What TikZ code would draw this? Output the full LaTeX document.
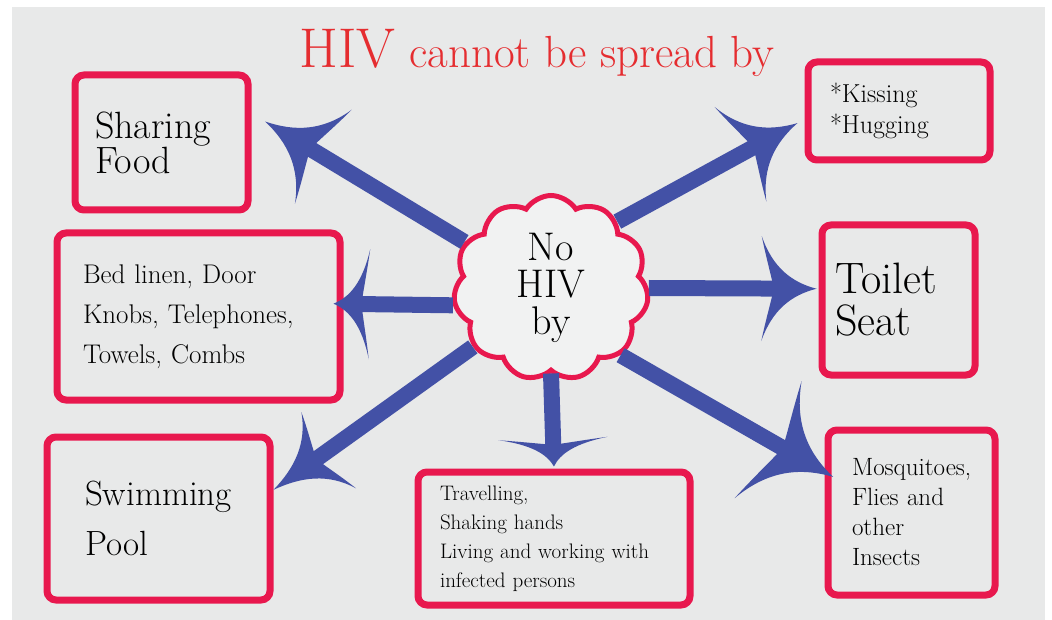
\documentclass[tikz,border=0pt]{standalone}
\usepackage{fontspec}
\usepackage{tikz}
\usetikzlibrary{arrows.meta,shapes.symbols}

\definecolor{paper}{RGB}{232,233,233}
\definecolor{hivred}{RGB}{232,24,78}
\definecolor{titlered}{RGB}{229,45,48}
\definecolor{hivblue}{RGB}{67,81,166}

% curved barb arrow head
\pgfdeclarearrow{
  name = Swoop,
  parameters = {\the\pgfarrowlength,\the\pgfarrowwidth},
  setup code = {
    \pgfarrowssettipend{0pt}
    \pgfarrowssetbackend{-\pgfarrowlength}
    \pgfarrowssetlineend{-.72\pgfarrowlength}
    \pgfarrowshullpoint{0pt}{0pt}
    \pgfarrowsupperhullpoint{-\pgfarrowlength}{.5\pgfarrowwidth}
    \pgfarrowssavethe\pgfarrowlength
    \pgfarrowssavethe\pgfarrowwidth
  },
  drawing code = {
    \pgfpathmoveto{\pgfpointorigin}
    \pgfpathcurveto{\pgfqpoint{-.45\pgfarrowlength}{.06\pgfarrowwidth}}{\pgfqpoint{-.8\pgfarrowlength}{.2\pgfarrowwidth}}{\pgfqpoint{-\pgfarrowlength}{.5\pgfarrowwidth}}
    \pgfpathcurveto{\pgfqpoint{-.9\pgfarrowlength}{.25\pgfarrowwidth}}{\pgfqpoint{-.8\pgfarrowlength}{.08\pgfarrowwidth}}{\pgfqpoint{-.78\pgfarrowlength}{0pt}}
    \pgfpathcurveto{\pgfqpoint{-.8\pgfarrowlength}{-.08\pgfarrowwidth}}{\pgfqpoint{-.9\pgfarrowlength}{-.25\pgfarrowwidth}}{\pgfqpoint{-\pgfarrowlength}{-.5\pgfarrowwidth}}
    \pgfpathcurveto{\pgfqpoint{-.8\pgfarrowlength}{-.2\pgfarrowwidth}}{\pgfqpoint{-.45\pgfarrowlength}{-.06\pgfarrowwidth}}{\pgfpointorigin}
    \pgfpathclose
    \pgfusepathqfill
  },
  defaults = {length = 60pt, width = 110pt}
}

\tikzset{
  card/.style={draw=hivred, line width=7pt, rounded corners=9pt, align=left, inner sep=0pt},
  link/.style={draw=hivblue, line width=16pt},
}

\begin{document}
\begin{tikzpicture}[x=1pt,y=-1pt]
 \useasboundingbox (0,0) rectangle (1052,620);
 \fill[paper] (12,7) rectangle (1045,620);

 \node[text=titlered, anchor=base, font=\fontsize{45}{45}\selectfont] (title) at (537,68)
   {{\fontsize{56}{56}\selectfont HIV} cannot be spread by};

 % the seven boxes
 \node[card, minimum width=173pt, minimum height=135pt, text width=133pt, font=\fontsize{38}{31}\selectfont] (food) at (161.5,142.5) {Sharing\\Food};
 \node[card, minimum width=182pt, minimum height=98pt, text width=138pt, font=\fontsize{26}{31}\selectfont] (kiss) at (899,111) {{*}Kissing\\{*}Hugging};
 \node[card, minimum width=283pt, minimum height=167pt, text width=231pt, font=\fontsize{27}{40}\selectfont] (bed) at (198.5,316.5) {Bed linen, Door\\Knobs, Telephones,\\Towels, Combs};
 \node[card, minimum width=153pt, minimum height=150pt, text width=127pt, font=\fontsize{44}{42}\selectfont] (toilet) at (898.5,300) {Toilet\\Seat};
 \node[card, minimum width=223pt, minimum height=163pt, text width=147pt, font=\fontsize{35}{50}\selectfont] (swim) at (158.5,518.5) {Swimming\\Pool};
 \node[card, minimum width=272pt, minimum height=133pt, text width=228pt, font=\fontsize{21}{29}\selectfont] (travel) at (554,538.5) {Travelling,\\Shaking hands\\Living and working with\\infected persons};
 \node[card, minimum width=167pt, minimum height=165pt, text width=119pt, font=\fontsize{25}{30}\selectfont] (mosq) at (911.5,512.5) {Mosquitoes,\\Flies and\\other\\Insects};

 % centre cloud
 \node[cloud, cloud puffs=11, cloud puff arc=115, draw=hivred, line width=5pt, fill=paper!60!white,
   minimum width=195pt, minimum height=185pt, inner sep=0pt, align=center,
   font=\fontsize{40}{37}\selectfont] (cloud) at (551,288) {No\\HIV\\by};

 % arrows
 \draw[link, -{Swoop[length=68pt,width=110pt]}, shorten >=16pt] (cloud.152) -- (food.18);
 \draw[link, -{Swoop[length=65pt,width=108pt]}, shorten >=8pt] (cloud.45) -- (kiss.185);
 \draw[link, -{Swoop[length=36pt,width=110pt]}, shorten >=-10pt] (cloud.190) -- (bed.5);
 \draw[link, -{Swoop[length=55pt,width=105pt]}, shorten >=2pt] (cloud.0) -- (toilet.172);
 \draw[link, -{Swoop[length=68pt,width=94pt]}] (cloud.217) -- (swim.14);
 \draw[link, -{Swoop[length=28pt,width=109pt]}, shorten >=2pt] (cloud.south) -- (travel.north);
 \draw[link, -{Swoop[length=75pt,width=135pt]}, shorten >=-10pt] (cloud.-44) -- (mosq.155);
\end{tikzpicture}
\end{document}
